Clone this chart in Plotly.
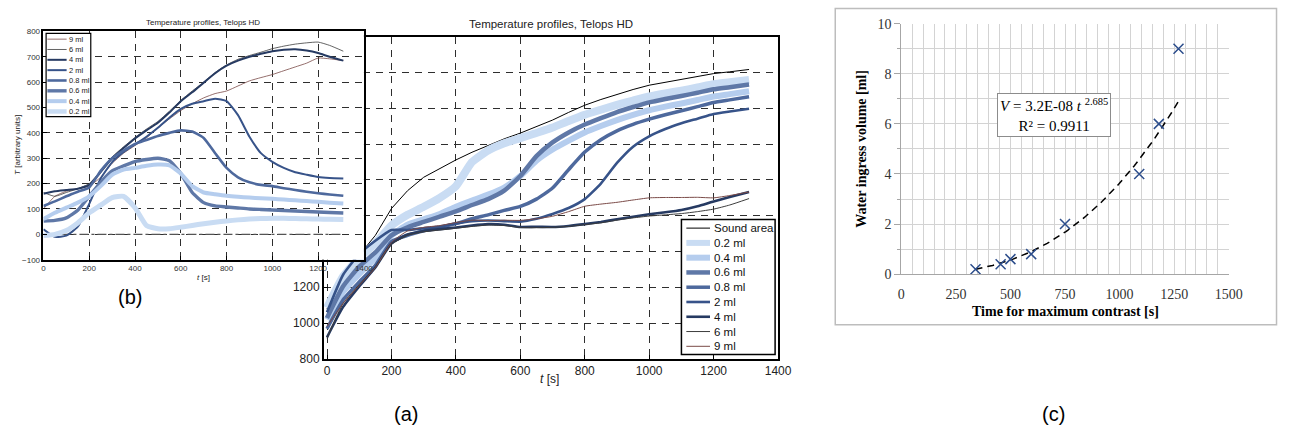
import numpy as np
import plotly.graph_objects as go

W, H = 1292, 436


def px(x):
    return x / W


def py(y):
    return 1 - y / H


# ---------------------------------------------------------------- data
# sample times [s]
t = [0, 50, 100, 150, 200, 250, 300, 350, 400, 450, 500, 550, 600, 650, 700,
     750, 800, 850, 900, 950, 1000, 1050, 1100, 1150, 1200, 1250, 1310]

# (a) temperature profiles
sound_area = [1080, 1260, 1380, 1490, 1640, 1740, 1815, 1865, 1912, 1955, 1993, 2030, 2062, 2098,
              2135, 2178, 2218, 2250, 2280, 2306, 2330, 2347, 2362, 2378, 2395, 2405, 2418]
temp_02 = [1085, 1260, 1365, 1445, 1545, 1605, 1650, 1700, 1765, 1900, 1965, 2005, 2034, 2063,
           2093, 2130, 2165, 2193, 2220, 2244, 2267, 2284, 2300, 2317, 2335, 2346, 2360]
temp_04 = [1020, 1175, 1275, 1365, 1490, 1550, 1580, 1610, 1650, 1685, 1718, 1758, 1822, 1908,
           1970, 2020, 2066, 2102, 2135, 2164, 2190, 2210, 2228, 2247, 2267, 2280, 2296]
temp_06 = [1028, 1205, 1315, 1395, 1490, 1535, 1565, 1595, 1625, 1660, 1693, 1740, 1822, 1933,
           2010, 2066, 2110, 2146, 2180, 2208, 2234, 2253, 2270, 2288, 2307, 2319, 2334]
temp_08 = [968, 1130, 1230, 1322, 1455, 1490, 1515, 1535, 1556, 1583, 1605, 1630, 1652, 1693,
           1755, 1858, 1956, 2025, 2075, 2111, 2140, 2165, 2187, 2210, 2233, 2248, 2266]
temp_2 = [1060, 1270, 1385, 1460, 1520, 1520, 1530, 1540, 1557, 1570, 1573, 1570, 1567, 1583,
          1610, 1643, 1693, 1780, 1895, 1986, 2044, 2085, 2117, 2143, 2169, 2183, 2198]
temp_4 = [920, 1090, 1205, 1310, 1445, 1495, 1515, 1525, 1534, 1545, 1553, 1550, 1537, 1538,
          1537, 1543, 1553, 1565, 1580, 1594, 1608, 1619, 1632, 1653, 1680, 1705, 1733]
temp_6 = [915, 1110, 1215, 1310, 1440, 1490, 1510, 1520, 1530, 1540, 1548, 1545, 1534, 1533,
          1535, 1540, 1550, 1560, 1575, 1588, 1598, 1605, 1612, 1623, 1637, 1660, 1696]
temp_9 = [980, 1110, 1210, 1310, 1450, 1515, 1535, 1545, 1562, 1575, 1573, 1575, 1574, 1583,
          1597, 1623, 1653, 1665, 1675, 1688, 1700, 1702, 1702, 1703, 1700, 1713, 1733]

# (b) contrast profiles (arbitrary units)
contrast_02 = [-5, 0, 15, 45, 85, 115, 145, 150, 105, 35, 22, 22, 28, 35, 42, 48, 53, 57, 60,
               62, 63, 63, 62, 61, 60, 59, 58]
contrast_04 = [60, 85, 105, 125, 150, 190, 235, 255, 262, 270, 275, 272, 240, 190, 165, 158, 152,
               148, 145, 142, 140, 137, 134, 131, 128, 125, 122]
contrast_06 = [52, 55, 65, 95, 150, 205, 250, 270, 287, 295, 300, 290, 240, 165, 125, 112, 108,
               104, 100, 98, 96, 94, 92, 90, 88, 86, 84]
contrast_08 = [112, 130, 150, 168, 185, 250, 300, 330, 356, 372, 388, 400, 410, 405, 380, 320,
               262, 225, 205, 195, 190, 182, 175, 168, 162, 157, 152]
contrast_2 = [20, -10, -5, 30, 120, 220, 285, 325, 355, 385, 420, 460, 495, 515, 525, 535, 525,
              470, 385, 320, 286, 262, 245, 235, 226, 222, 220]
contrast_4 = [160, 170, 175, 180, 195, 245, 300, 340, 378, 410, 440, 480, 525, 560, 598, 635,
              665, 685, 700, 712, 722, 728, 730, 725, 715, 700, 685]
contrast_6 = [165, 150, 165, 180, 200, 250, 305, 345, 382, 415, 445, 485, 528, 565, 600, 638,
              668, 690, 705, 718, 732, 742, 750, 755, 758, 745, 722]
contrast_9 = [100, 150, 170, 180, 190, 225, 280, 320, 350, 380, 420, 455, 488, 515, 538, 555,
              565, 585, 605, 618, 630, 645, 660, 675, 695, 692, 685]
baseline_t = [0, 1310]
baseline = [0, 0]

# (c) water ingress vs. time of maximum contrast
peak_time = [340, 455, 500, 595, 750, 1090, 1180, 1270]
ingress_volume = [0.2, 0.4, 0.6, 0.8, 2, 4, 6, 9]
fit_coef = 3.2e-8
fit_exp = 2.685
r_squared = 0.9911

labels = ["0.2 ml", "0.4 ml", "0.6 ml", "0.8 ml", "2 ml", "4 ml", "6 ml", "9 ml"]
temps = [temp_02, temp_04, temp_06, temp_08, temp_2, temp_4, temp_6, temp_9]
contrasts = [contrast_02, contrast_04, contrast_06, contrast_08, contrast_2, contrast_4,
             contrast_6, contrast_9]

# ---------------------------------------------------------------- styles
colors = ["#c9dcf3", "#b5cdee", "#5f78a7", "#4e699d", "#375389", "#263a62", "#3c3c3c", "#7a4a47"]
width_a = [8, 6, 4.5, 3.5, 2.6, 2.6, 1.0, 1.0]
width_b = [5, 4, 3.4, 2.6, 2.0, 2.0, 0.8, 0.8]
SANS = "Liberation Sans, Arial, sans-serif"
SERIF = "Liberation Serif, Times New Roman, serif"

fig = go.Figure()

# (a) main temperature profiles
fig.add_trace(go.Scatter(x=t, y=sound_area, mode="lines", name="Sound area",
                         line=dict(color="#000000", width=1), xaxis="x", yaxis="y",
                         showlegend=False))
for lab, y, c, w in zip(labels, temps, colors, width_a):
    fig.add_trace(go.Scatter(x=t, y=y, mode="lines", name=lab,
                             line=dict(color=c, width=w, shape="spline", smoothing=0.5),
                             xaxis="x", yaxis="y", showlegend=False))

# (b) inset contrast profiles
fig.add_trace(go.Scatter(x=baseline_t, y=baseline, mode="lines",
                         line=dict(color="#555555", width=1.2, dash="dashdot"),
                         xaxis="x2", yaxis="y2", showlegend=False))
for lab, y, c, w in reversed(list(zip(labels, contrasts, colors, width_b))):
    fig.add_trace(go.Scatter(x=t, y=y, mode="lines", name=lab,
                             line=dict(color=c, width=w, shape="spline", smoothing=0.5),
                             xaxis="x2", yaxis="y2", showlegend=False))

# (c) power-law trend line and measurements
t_fit = np.linspace(peak_time[0], peak_time[-1], 120)
v_fit = fit_coef * t_fit ** fit_exp
fig.add_trace(go.Scatter(x=t_fit, y=v_fit, mode="lines",
                         line=dict(color="#000000", width=1.5, dash="7px,5px"),
                         xaxis="x3", yaxis="y3", showlegend=False))
fig.add_trace(go.Scatter(x=peak_time, y=ingress_volume, mode="markers",
                         marker=dict(symbol="x-thin", size=10, color="#2d4e8c",
                                     line=dict(width=1.5, color="#2d4e8c")),
                         xaxis="x3", yaxis="y3", showlegend=False))

grid_a = dict(showgrid=True, gridcolor="#2e2e2e", gridwidth=1.3, griddash="7px,6px",
              showline=True, linecolor="#000000", linewidth=1.5, mirror=True,
              ticks="inside", ticklen=4, tickcolor="#000000", zeroline=False)

shapes = []
annotations = []

# outer frame of panel (c)
shapes.append(dict(type="rect", xref="paper", yref="paper", x0=px(843), x1=px(1290.5),
                   y0=py(329), y1=py(1.5), line=dict(color="#bdbdbd", width=1.5),
                   fillcolor="rgba(0,0,0,0)", layer="below"))

# legend of panel (a)
shapes.append(dict(type="rect", xref="paper", yref="paper", x0=px(687), x1=px(782),
                   y0=py(360), y1=py(220), line=dict(color="#000000", width=1.5),
                   fillcolor="#ffffff", layer="above"))
leg_a = [("Sound area", "#000000", 1)] + list(zip(labels, colors, width_a))
for i, (lab, c, w) in enumerate(leg_a):
    yy = 229 + i * 15.3
    shapes.append(dict(type="line", xref="paper", yref="paper", x0=px(692), x1=px(716),
                       y0=py(yy), y1=py(yy), line=dict(color=c, width=min(w, 6)),
                       layer="above"))
    annotations.append(dict(x=px(718), y=py(yy), xref="paper", yref="paper", text=lab,
                            showarrow=False, xanchor="left", yanchor="middle",
                            font=dict(family=SANS, size=11.5, color="#111111")))

# legend of inset (b)
shapes.append(dict(type="rect", xref="paper", yref="paper", x0=px(42.7), x1=px(88),
                   y0=py(113.5), y1=py(27.3), line=dict(color="#000000", width=1.2),
                   fillcolor="#ffffff", layer="above"))
leg_b = list(reversed(list(zip(labels, colors, width_b))))
for i, (lab, c, w) in enumerate(leg_b):
    yy = 33.3 + i * 10.7
    shapes.append(dict(type="line", xref="paper", yref="paper", x0=px(44), x1=px(63.5),
                       y0=py(yy), y1=py(yy), line=dict(color=c, width=min(w, 4.5)),
                       layer="above"))
    annotations.append(dict(x=px(64), y=py(yy), xref="paper", yref="paper", text=lab,
                            showarrow=False, xanchor="left", yanchor="middle",
                            font=dict(family=SANS, size=7.5, color="#222222")))


def note(x, y, text, size, family=SANS, color="#222222", angle=0):
    annotations.append(dict(x=px(x), y=py(y), xref="paper", yref="paper", text=text,
                            showarrow=False, xanchor="center", yanchor="middle",
                            textangle=angle, font=dict(family=family, size=size, color=color)))


note(555, 18, "Temperature profiles, Telops HD", 11.5)
note(553, 385, "<i>t</i> [s]", 12)
note(202, 16, "Temperature profiles, Telops HD", 8)
note(202, 280, "<i>t</i> [s]", 8)
note(13, 143, "<i>T</i> [arbitrary units]", 8, angle=-90)
note(408, 422, "(a)", 20, color="#000000")
note(128, 300, "(b)", 20, color="#000000")
note(1064, 422, "(c)", 20, color="#000000")
note(870, 147, "<b>Water ingress volume [ml]</b>", 14, family=SERIF, color="#000000", angle=-90)
note(1077, 315, "<b>Time for maximum contrast [s]</b>", 14, family=SERIF, color="#000000")
annotations.append(dict(x=px(1064.5), y=py(112), xref="paper", yref="paper",
                        text=f"<i>V</i> = {fit_coef:.1E} <i>t</i> <sup>{fit_exp}</sup>"
                             f"<br>R² = {r_squared}",
                        showarrow=False, xanchor="center", yanchor="middle", align="center",
                        bgcolor="#ffffff", bordercolor="#8c8c8c", borderwidth=1, borderpad=2,
                        font=dict(family=SERIF, size=15, color="#000000")))

fig.update_layout(
    width=W, height=H, margin=dict(l=0, r=0, t=0, b=0),
    paper_bgcolor="#ffffff", plot_bgcolor="#ffffff", showlegend=False,
    xaxis=dict(domain=[px(324.3), px(785)], range=[-10, 1400], tickmode="array",
               tickvals=[0, 200, 400, 600, 800, 1000, 1200, 1400], anchor="y",
               tickfont=dict(family=SANS, size=12, color="#222222"), **grid_a),
    yaxis=dict(domain=[py(364.3), py(31)], range=[800, 2600], dtick=200, anchor="x",
               tickfont=dict(family=SANS, size=12, color="#222222"), **grid_a),
    xaxis2=dict(domain=[px(40), px(365)], range=[0, 1400], dtick=200, anchor="y2",
                tickfont=dict(family=SANS, size=8, color="#333333"), **grid_a),
    yaxis2=dict(domain=[py(261.7), py(25.3)], range=[-100, 800], dtick=100, anchor="x2",
                tickfont=dict(family=SANS, size=8, color="#333333"), **grid_a),
    xaxis3=dict(domain=[px(910), px(1242)], range=[0, 1500], dtick=250, anchor="y3",
                showgrid=True, gridcolor="#d3d3d3", gridwidth=1, zeroline=False,
                showline=True, linecolor="#a6a6a6", linewidth=1,
                ticks="outside", ticklen=7, tickcolor="rgba(0,0,0,0)",
                minor=dict(dtick=50, showgrid=True, gridcolor="#d3d3d3", gridwidth=1),
                tickfont=dict(family=SERIF, size=14, color="#333333")),
    yaxis3=dict(domain=[py(276.7), py(17.3)], range=[0, 10], dtick=2, anchor="x3",
                showgrid=True, gridcolor="#d3d3d3", gridwidth=1, zeroline=False,
                showline=True, linecolor="#a6a6a6", linewidth=1, ticks="outside", ticklen=6,
                tickcolor="#a6a6a6",
                minor=dict(dtick=1, showgrid=True, gridcolor="#d3d3d3", gridwidth=1,
                           ticks="outside", ticklen=3, tickcolor="#a6a6a6"),
                tickfont=dict(family=SERIF, size=14, color="#333333")),
    shapes=shapes, annotations=annotations,
)

fig.write_html("out.html")
